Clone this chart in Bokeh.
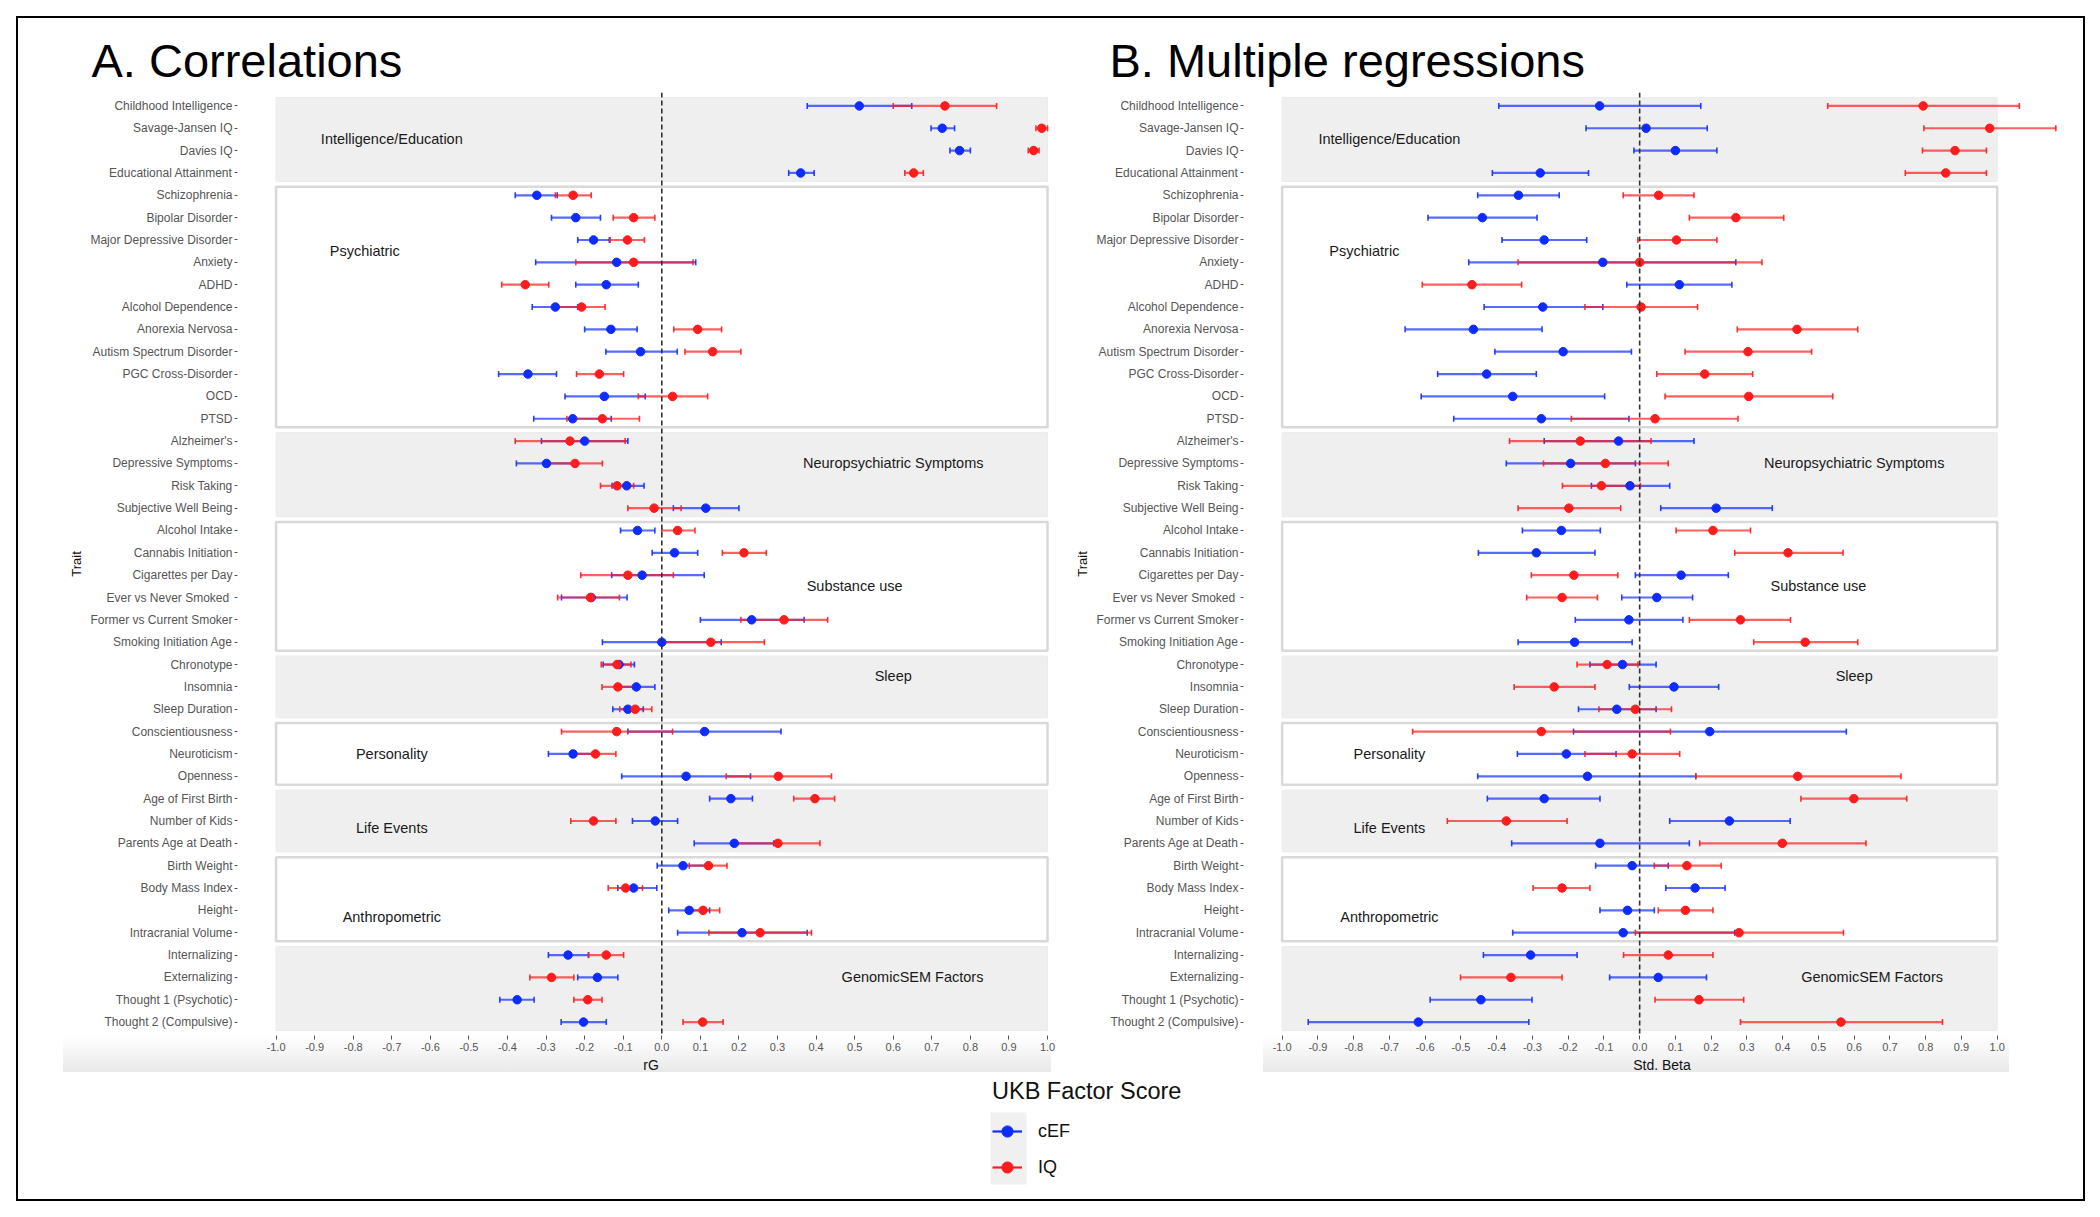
import numpy as np
from bokeh.plotting import figure
from bokeh.models import (FactorRange, Range1d, ColumnDataSource, Span, FixedTicker,
                          NumeralTickFormatter, Legend, LegendItem, BoxAnnotation)
from bokeh.layouts import row, column
from bokeh.embed import file_html
from bokeh.resources import INLINE
from bokeh.core.properties import value

# ---------------- data ----------------
traits = [
    "Childhood Intelligence", "Savage-Jansen IQ", "Davies IQ", "Educational Attainment",
    "Schizophrenia", "Bipolar Disorder", "Major Depressive Disorder", "Anxiety", "ADHD",
    "Alcohol Dependence", "Anorexia Nervosa", "Autism Spectrum Disorder", "PGC Cross-Disorder",
    "OCD", "PTSD",
    "Alzheimer's", "Depressive Symptoms", "Risk Taking", "Subjective Well Being",
    "Alcohol Intake", "Cannabis Initiation", "Cigarettes per Day", "Ever vs Never Smoked ",
    "Former vs Current Smoker", "Smoking Initiation Age",
    "Chronotype", "Insomnia", "Sleep Duration",
    "Conscientiousness", "Neuroticism", "Openness",
    "Age of First Birth", "Number of Kids", "Parents Age at Death",
    "Birth Weight", "Body Mass Index", "Height", "Intracranial Volume",
    "Internalizing", "Externalizing", "Thought 1 (Psychotic)", "Thought 2 (Compulsive)",
]

groups = ["Intelligence/Education", "Psychiatric", "Neuropsychiatric Symptoms", "Substance use",
          "Sleep", "Personality", "Life Events", "Anthropometric", "GenomicSEM Factors"]
group_sizes = [4, 11, 4, 6, 3, 3, 3, 4, 4]
group_shaded = [True, False, True, False, True, False, True, False, True]
group_label_x = [-0.70, -0.77, 0.60, 0.50, 0.60, -0.70, -0.70, -0.70, 0.65]
group_label_trait = ["Savage-Jansen IQ", "Major Depressive Disorder", "Depressive Symptoms",
                     "Cigarettes per Day", "Chronotype", "Neuroticism", "Number of Kids",
                     "Height", "Externalizing"]
group_label_offset = [-0.5, -0.5, 0.0, -0.5, -0.5, 0.0, -0.3, -0.3, 0.0]

series_names = ["cEF", "IQ"]

# A. genetic correlations (rG)
rg_cef = [0.512, 0.727, 0.772, 0.360, -0.324, -0.223, -0.177, -0.117, -0.144, -0.276, -0.132,
          -0.055, -0.347, -0.149, -0.231, -0.200, -0.299, -0.091, 0.114, -0.063, 0.033, -0.051,
          -0.183, 0.233, 0.000, -0.111, -0.066, -0.088, 0.111, -0.230, 0.063, 0.179, -0.017,
          0.188, 0.055, -0.073, 0.071, 0.208, -0.243, -0.167, -0.375, -0.203]
rg_cef_lo = [0.377, 0.698, 0.747, 0.329, -0.380, -0.286, -0.218, -0.327, -0.223, -0.336, -0.200,
             -0.145, -0.423, -0.251, -0.332, -0.312, -0.377, -0.129, 0.030, -0.107, -0.025, -0.130,
             -0.260, 0.100, -0.154, -0.152, -0.106, -0.127, -0.088, -0.294, -0.104, 0.124, -0.076,
             0.084, -0.012, -0.114, 0.018, 0.041, -0.294, -0.218, -0.420, -0.261]
rg_cef_hi = [0.648, 0.759, 0.800, 0.395, -0.271, -0.159, -0.136, 0.088, -0.061, -0.218, -0.064,
             0.040, -0.273, -0.043, -0.131, -0.088, -0.222, -0.046, 0.200, -0.018, 0.093, 0.110,
             -0.090, 0.369, 0.154, -0.071, -0.018, -0.048, 0.309, -0.165, 0.230, 0.235, 0.041,
             0.290, 0.120, -0.013, 0.124, 0.377, -0.190, -0.114, -0.331, -0.144]
rg_iq = [0.734, 0.985, 0.964, 0.653, -0.230, -0.073, -0.089, -0.073, -0.354, -0.208, 0.093,
         0.132, -0.162, 0.028, -0.154, -0.238, -0.225, -0.116, -0.020, 0.041, 0.213, -0.088,
         -0.185, 0.317, 0.127, -0.116, -0.114, -0.069, -0.117, -0.172, 0.302, 0.397, -0.177,
         0.301, 0.121, -0.094, 0.107, 0.255, -0.144, -0.286, -0.192, 0.106]
rg_iq_lo = [0.600, 0.970, 0.950, 0.630, -0.276, -0.126, -0.134, -0.223, -0.415, -0.269, 0.031,
            0.060, -0.221, -0.061, -0.246, -0.380, -0.294, -0.159, -0.088, 0.000, 0.157, -0.210,
            -0.270, 0.205, -0.005, -0.157, -0.155, -0.109, -0.260, -0.228, 0.167, 0.342, -0.236,
            0.190, 0.071, -0.139, 0.071, 0.122, -0.190, -0.342, -0.228, 0.055]
rg_iq_hi = [0.868, 1.000, 0.978, 0.678, -0.183, -0.018, -0.045, 0.081, -0.293, -0.147, 0.155,
            0.205, -0.099, 0.119, -0.058, -0.095, -0.154, -0.073, 0.050, 0.086, 0.271, 0.030,
            -0.110, 0.430, 0.266, -0.080, -0.073, -0.026, 0.028, -0.119, 0.440, 0.448, -0.119,
            0.410, 0.169, -0.050, 0.150, 0.388, -0.099, -0.228, -0.155, 0.159]

# B. multiple regressions (standardised beta)
b_cef = [-0.112, 0.018, 0.100, -0.278, -0.339, -0.440, -0.267, -0.103, 0.111, -0.271, -0.465,
         -0.214, -0.428, -0.355, -0.275, -0.059, -0.193, -0.027, 0.214, -0.219, -0.289, 0.116,
         0.048, -0.030, -0.182, -0.048, 0.096, -0.064, 0.196, -0.205, -0.146, -0.267, 0.251,
         -0.111, -0.021, 0.155, -0.034, -0.046, -0.305, 0.052, -0.444, -0.619]
b_cef_lo = [-0.394, -0.150, -0.016, -0.412, -0.453, -0.592, -0.385, -0.478, -0.036, -0.435, -0.656,
            -0.405, -0.565, -0.611, -0.520, -0.267, -0.373, -0.135, 0.059, -0.328, -0.451, -0.012,
            -0.050, -0.180, -0.340, -0.139, -0.029, -0.171, -0.185, -0.342, -0.453, -0.426, 0.084,
            -0.358, -0.123, 0.073, -0.111, -0.355, -0.437, -0.084, -0.586, -0.927]
b_cef_hi = [0.171, 0.189, 0.216, -0.143, -0.225, -0.287, -0.148, 0.269, 0.258, -0.103, -0.273,
            -0.023, -0.289, -0.098, -0.030, 0.152, -0.012, 0.084, 0.371, -0.110, -0.125, 0.248,
            0.148, 0.121, -0.021, 0.046, 0.221, 0.046, 0.578, -0.066, 0.157, -0.111, 0.421,
            0.139, 0.080, 0.239, 0.041, 0.266, -0.175, 0.187, -0.301, -0.310]
b_iq = [0.793, 0.979, 0.882, 0.856, 0.053, 0.269, 0.103, 0.000, -0.469, 0.004, 0.440,
        0.303, 0.182, 0.305, 0.043, -0.166, -0.096, -0.107, -0.198, 0.205, 0.415, -0.184,
        -0.217, 0.282, 0.463, -0.091, -0.239, -0.012, -0.275, -0.021, 0.442, 0.599, -0.373,
        0.399, 0.132, -0.217, 0.128, 0.278, 0.080, -0.360, 0.166, 0.563]
b_iq_lo = [0.526, 0.795, 0.791, 0.743, -0.046, 0.139, -0.005, -0.340, -0.608, -0.153, 0.273,
           0.127, 0.048, 0.071, -0.191, -0.364, -0.269, -0.216, -0.340, 0.102, 0.266, -0.303,
           -0.316, 0.139, 0.319, -0.175, -0.351, -0.114, -0.635, -0.153, 0.157, 0.451, -0.538,
           0.168, 0.041, -0.298, 0.052, -0.012, -0.045, -0.501, 0.043, 0.282]
b_iq_hi = [1.062, 1.164, 0.970, 0.970, 0.152, 0.403, 0.216, 0.342, -0.330, 0.162, 0.610,
           0.481, 0.316, 0.540, 0.275, 0.032, 0.080, 0.002, -0.053, 0.310, 0.569, -0.061,
           -0.118, 0.422, 0.610, -0.005, -0.125, 0.089, 0.086, 0.112, 0.731, 0.747, -0.203,
           0.633, 0.228, -0.139, 0.205, 0.570, 0.205, -0.217, 0.291, 0.847]

x_ticks = [-1.0, -0.9, -0.8, -0.7, -0.6, -0.5, -0.4, -0.3, -0.2, -0.1, 0.0,
           0.1, 0.2, 0.3, 0.4, 0.5, 0.6, 0.7, 0.8, 0.9, 1.0]
band_left, band_right = -1.0, 1.0

# ---------------- style ----------------
BLUE = "#0f2cff"
RED = "#ff1c1c"
colors = [BLUE, RED]
FONT = "Liberation Sans"
FIG_H = 1057
BOTTOM = 39


def make_panel(title, xlabel, series, x_start, x_end, width, b_left, b_right, t_offset,
               strip_left, strip_width):
    strip_css = {
        "background-image": "linear-gradient(to bottom, #ffffff, #e9e9e9)",
        "background-size": f"{strip_width}px 36px",
        "background-position": f"{strip_left}px {FIG_H - BOTTOM}px",
        "background-repeat": "no-repeat",
    }
    p = figure(width=width, height=FIG_H,
               x_range=Range1d(x_start, x_end),
               y_range=FactorRange(factors=traits[::-1], range_padding=0.1,
                                   range_padding_units="absolute"),
               output_backend="svg", toolbar_location=None,
               min_border_left=b_left, min_border_right=b_right,
               min_border_top=74, min_border_bottom=BOTTOM, styles=strip_css)
    p.outline_line_color = None
    p.xgrid.grid_line_color = None
    p.ygrid.grid_line_color = None
    p.background_fill_color = "white"
    p.border_fill_alpha = 0

    p.title.text = title
    p.title.text_font = FONT
    p.title.text_font_size = "47px"
    p.title.text_font_style = "normal"
    p.title.text_color = "black"
    p.title.align = "left"
    p.title.offset = t_offset
    p.title.standoff = 11

    # group bands
    starts = np.cumsum([0] + group_sizes[:-1])
    tops = [(traits[s], 0.38) for s in starts]
    bots = [(traits[s + n - 1], -0.38) for s, n in zip(starts, group_sizes)]
    sh_src = ColumnDataSource(dict(
        top=[t for t, f in zip(tops, group_shaded) if f],
        bottom=[b for b, f in zip(bots, group_shaded) if f]))
    bx_src = ColumnDataSource(dict(
        top=[t for t, f in zip(tops, group_shaded) if not f],
        bottom=[b for b, f in zip(bots, group_shaded) if not f]))
    p.quad(left=band_left, right=band_right, top="top", bottom="bottom", source=sh_src,
           fill_color="#efefef", line_color="#ebebeb", line_width=1)
    p.quad(left=band_left, right=band_right, top="top", bottom="bottom", source=bx_src,
           fill_color="white", line_color="#d9d9d9", line_width=2.5)

    lab_src = ColumnDataSource(dict(
        x=group_label_x,
        y=[(t, o) for t, o in zip(group_label_trait, group_label_offset)],
        text=groups))
    p.text(x="x", y="y", text="text", source=lab_src, text_font=value(FONT),
           text_font_size="14.5px", text_color="#1a1a1a", text_align="center",
           text_baseline="middle")

    zero = Span(location=0, dimension="height", line_color="#333333", line_dash="5 3",
                line_width=1.6, level="glyph")
    p.add_layout(zero)

    srcs = []
    for (est, lo, hi), col in zip(series, colors):
        src = ColumnDataSource(dict(y=traits, est=est, lo=lo, hi=hi))
        srcs.append(src)
        p.segment(x0="lo", y0="y", x1="hi", y1="y", source=src, line_color=col,
                  line_width=2.2, line_alpha=0.7)
        for end in ("lo", "hi"):
            p.scatter(x=end, y="y", source=src, marker="dash", angle=np.pi / 2, size=6,
                      line_color=col, line_width=1.6, line_alpha=0.9)
    for src, col in zip(srcs, colors):
        p.scatter(x="est", y="y", source=src, size=8.5, fill_color=col, line_color=col)

    p.xaxis.ticker = FixedTicker(ticks=x_ticks)
    p.xaxis.formatter = NumeralTickFormatter(format="0.0")
    p.xaxis.axis_label = xlabel
    p.xaxis.axis_line_color = None
    p.xaxis.major_tick_out = 4
    p.xaxis.major_tick_in = 0
    p.xaxis.minor_tick_line_color = None
    p.xaxis.major_tick_line_color = "#555555"
    p.xaxis.major_label_text_font = FONT
    p.xaxis.major_label_text_font_size = "11px"
    p.xaxis.major_label_text_color = "#555555"
    p.xaxis.major_label_standoff = 3
    p.xaxis.axis_label_standoff = 3
    p.xaxis.axis_label_text_font = FONT
    p.xaxis.axis_label_text_font_size = "14px"
    p.xaxis.axis_label_text_font_style = "normal"
    p.xaxis.axis_label_text_color = "#111111"

    p.yaxis.axis_line_color = None
    p.yaxis.major_tick_out = 3
    p.yaxis.major_tick_in = 0
    p.yaxis.major_tick_line_color = "#555555"
    p.yaxis.major_label_text_font = FONT
    p.yaxis.major_label_text_font_size = "12px"
    p.yaxis.major_label_text_color = "#555555"
    p.yaxis.major_label_standoff = 2
    p.yaxis.axis_label = "Trait"
    p.yaxis.axis_label_standoff = 3
    p.yaxis.axis_label_text_font = FONT
    p.yaxis.axis_label_text_font_size = "13px"
    p.yaxis.axis_label_text_font_style = "normal"
    p.yaxis.axis_label_text_color = "#111111"
    return p


p1 = make_panel("A. Correlations", "rG",
                [(rg_cef, rg_cef_lo, rg_cef_hi), (rg_iq, rg_iq_lo, rg_iq_hi)],
                -1.1, 1.044, 1046, 219, 0, -146, 45, 988)
p2 = make_panel("B. Multiple regressions", "Std. Beta",
                [(b_cef, b_cef_lo, b_cef_hi), (b_iq, b_iq_lo, b_iq_hi)],
                -1.108, 1.233, 1019, 179, 3, -134, 199, 746)

# ---------------- legend ----------------
LW, LH = 2065, 124
pleg = figure(width=LW, height=LH, x_range=Range1d(0, LW), y_range=Range1d(0, LH),
              output_backend="svg", toolbar_location=None, min_border=0)
pleg.outline_line_color = None
pleg.axis.visible = False
pleg.xgrid.grid_line_color = None
pleg.ygrid.grid_line_color = None
pleg.add_layout(BoxAnnotation(left=972, right=1008, bottom=15, top=87,
                              fill_color="#f0f0f0", fill_alpha=1, line_color=None,
                              level="underlay"))
items = []
for name, col in zip(series_names, colors):
    lr = pleg.line(x=[np.nan], y=[np.nan], line_color=col, line_width=2.2)
    sr = pleg.scatter(x=[np.nan], y=[np.nan], size=10, fill_color=col, line_color=col)
    items.append(LegendItem(label=name, renderers=[lr, sr]))
leg = Legend(items=items, title="UKB Factor Score", location=(974, 18),
             padding=0, margin=0, border_line_color=None, background_fill_alpha=0,
             glyph_width=30, glyph_height=28, spacing=8, label_standoff=16,
             label_text_font=FONT, label_text_font_size="18px", label_text_color="#111111",
             title_text_font=FONT, title_text_font_size="23.5px", title_text_font_style="normal",
             title_text_color="#111111", title_standoff=12)
pleg.add_layout(leg)

layout = column(row(p1, p2), pleg,
                styles={"border": "2px solid black", "transform": "translate(16px, 16px)"})

open("out.html", "w").write(file_html(layout, INLINE))
